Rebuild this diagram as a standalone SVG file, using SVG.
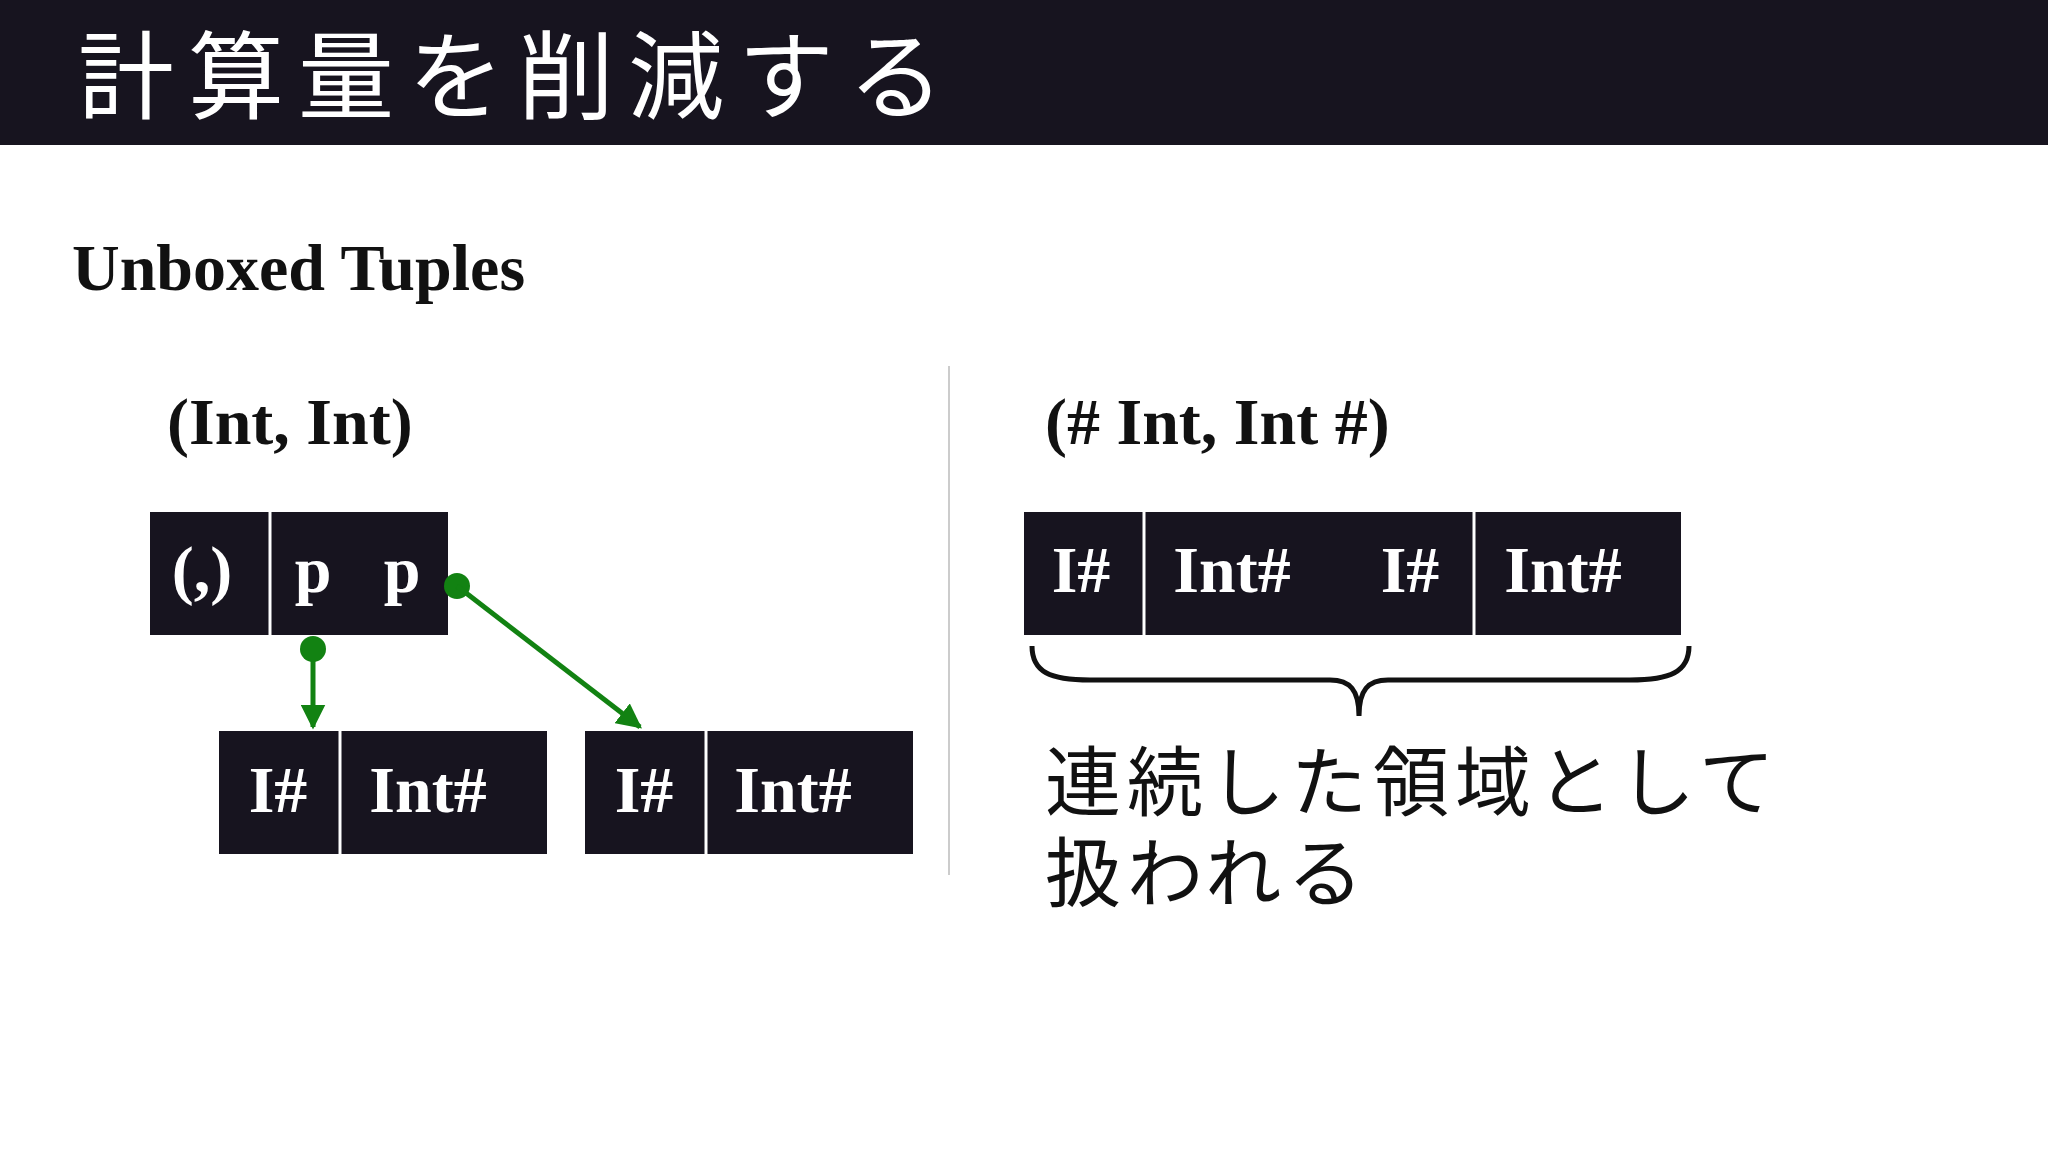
<svg xmlns="http://www.w3.org/2000/svg" width="2048" height="1150" viewBox="0 0 2048 1150">
<style>
.bx{fill:#17141f}
.sep{stroke:#fff;stroke-width:3}
.fk{font-family:"Liberation Serif","DejaVu Serif",serif;font-weight:bold}
.w{fill:#fff;font-size:66px;text-anchor:middle}
.jp{font-family:"Noto Sans CJK JP","Noto Sans",sans-serif}
.g{stroke:#128212;stroke-width:5;fill:none}
</style>
<defs>
<marker id="ah" viewBox="0 0 10 10" refX="9" refY="5" markerWidth="5" markerHeight="5" orient="auto"><path d="M0,0 L10,5 L0,10z" fill="#128212"/></marker>
</defs>
<rect width="2048" height="1150" fill="#fff"/>
<g id="header">
<rect x="0" y="0" width="2048" height="145" fill="#17141f"/>
<text class="jp" x="78" y="111" font-size="96" fill="#fff" letter-spacing="14">計算量を削減する</text>
</g>
<text class="fk" x="72" y="290" font-size="66" fill="#111">Unboxed Tuples</text>
<line x1="949" y1="366" x2="949" y2="875" stroke="#ccc" stroke-width="2"/>
<g id="boxed">
<text class="fk" x="167" y="444" font-size="66" fill="#111">(Int, Int)</text>
<g id="tuple">
<rect class="bx" x="150" y="512" width="298" height="123"/>
<line class="sep" x1="270" y1="512" x2="270" y2="635"/>
<text class="fk w" x="202" y="592">(,)</text>
<text class="fk w" x="313" y="592">p</text>
<text class="fk w" x="402" y="592">p</text>
</g>
<g id="box1">
<rect class="bx" x="219" y="731" width="328" height="123"/>
<line class="sep" x1="340" y1="731" x2="340" y2="854"/>
<text class="fk w" x="278" y="812">I#</text>
<text class="fk w" x="428" y="812">Int#</text>
</g>
<g id="box2">
<rect class="bx" x="585" y="731" width="328" height="123"/>
<line class="sep" x1="706" y1="731" x2="706" y2="854"/>
<text class="fk w" x="644" y="812">I#</text>
<text class="fk w" x="793" y="812">Int#</text>
</g>
</g>
<g id="connectors">
<circle cx="313" cy="649" r="13" fill="#128212"/>
<line class="g" x1="313" y1="649" x2="313" y2="727" marker-end="url(#ah)"/>
<circle cx="457" cy="586" r="13" fill="#128212"/>
<line class="g" x1="457" y1="586" x2="640" y2="727" marker-end="url(#ah)"/>
</g>
<g id="unboxed">
<text class="fk" x="1045" y="444" font-size="66" fill="#111">(# Int, Int #)</text>
<rect class="bx" x="1024" y="512" width="657" height="123"/>
<line class="sep" x1="1144" y1="512" x2="1144" y2="635"/>
<line class="sep" x1="1474" y1="512" x2="1474" y2="635"/>
<text class="fk w" x="1081" y="592">I#</text>
<text class="fk w" x="1232" y="592">Int#</text>
<text class="fk w" x="1410" y="592">I#</text>
<text class="fk w" x="1563" y="592">Int#</text>
<path d="M1032,646 C1032,672 1050,680 1090,680 L1330,680 C1350,680 1359,690 1359,716 C1359,690 1368,680 1388,680 L1630,680 C1670,680 1689,672 1689,646" fill="none" stroke="#111" stroke-width="5"/>
<text class="jp" x="1045" y="810" font-size="76" fill="#111" letter-spacing="6">連続した領域として</text>
<text class="jp" x="1045" y="901" font-size="76" fill="#111" letter-spacing="6">扱われる</text>
</g>
</svg>
